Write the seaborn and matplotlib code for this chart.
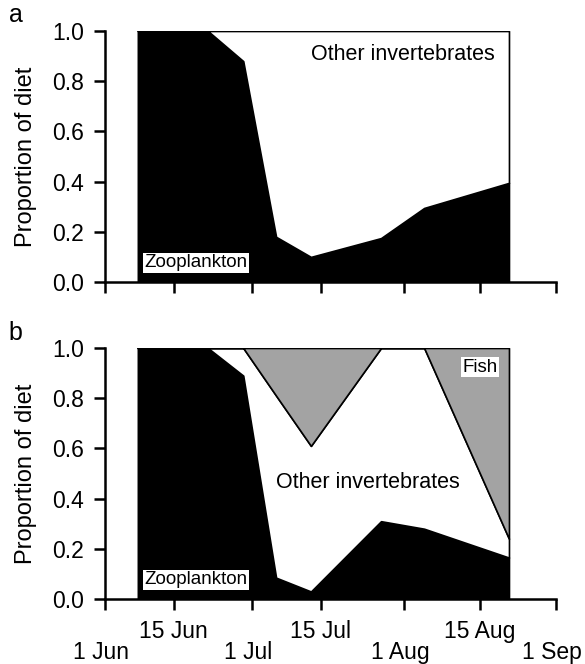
import numpy as np
import seaborn as sns
import matplotlib
matplotlib.use("Agg")
import matplotlib.pyplot as plt
from matplotlib.transforms import ScaledTranslation

# days since 1 June of each sampling date
days = [6.7, 21.0, 28.2, 34.9, 42.0, 56.3, 65.1, 82.4]

# panel a: zooplankton vs other invertebrates
a_zoo = [1.0, 1.0, 0.88, 0.18, 0.10, 0.175, 0.295, 0.395]
a_other = [1 - z for z in a_zoo]

# panel b: zooplankton, other invertebrates, fish
b_zoo = [1.0, 1.0, 0.89, 0.085, 0.03, 0.31, 0.28, 0.165]
b_fish = [0.0, 0.0, 0.0, 0.19, 0.39, 0.0, 0.0, 0.76]
b_other = [1 - z - f for z, f in zip(b_zoo, b_fish)]

# tick positions as they sit on the original axis
first_days = [0, 30, 61, 92]
first_labels = ["1 Jun", "1 Jul", "1 Aug", "1 Sep"]
mid_days = [14, 44, 76.5]
mid_labels = ["15 Jun", "15 Jul", "15 Aug"]
yticks = [0.0, 0.2, 0.4, 0.6, 0.8, 1.0]

sns.set_theme(style="ticks")
plt.rcParams["font.family"] = ["Liberation Sans", "DejaVu Sans"]
plt.rcParams["text.color"] = "black"
plt.rcParams["axes.labelcolor"] = "black"

fig = plt.figure(figsize=(5.85, 6.64), dpi=100)
ax_a = fig.add_axes([0.1795, 0.5753, 0.771, 0.378])
ax_b = fig.add_axes([0.1795, 0.0979, 0.771, 0.378])

ax_a.stackplot(days, a_zoo, a_other, colors=["black", "white"],
               edgecolor="black", linewidth=1.2)
ax_b.stackplot(days, b_zoo, b_other, b_fish, colors=["black", "white", "#a3a3a3"],
               edgecolor="black", linewidth=1.2)

for ax in (ax_a, ax_b):
    ax.set_xlim(0, 92)
    ax.set_ylim(0, 1)
    ax.set_yticks(yticks)
    ax.set_yticklabels([f"{v:.1f}" for v in yticks])
    ax.set_xticks(first_days)
    ax.set_xticks(mid_days, minor=True)
    ax.set_ylabel("Proportion of diet", fontsize=17, labelpad=11)
    ax.tick_params(which="both", direction="out", length=8, width=1.8,
                   labelsize=16.5, colors="black")
    ax.tick_params(axis="y", pad=7)
    for s in ("left", "bottom"):
        ax.spines[s].set_linewidth(1.8)
        ax.spines[s].set_color("black")
    ax.set_facecolor("white")
    ax.text(18.6, 0.076, "Zooplankton", fontsize=13.5, ha="center", va="center",
            bbox=dict(facecolor="white", edgecolor="none", pad=1))
    sns.despine(ax=ax)

ax_a.set_xticklabels([])
ax_a.set_xticklabels([], minor=True)
ax_b.set_xticklabels(first_labels)
ax_b.set_xticklabels(mid_labels, minor=True)
ax_b.tick_params(axis="x", which="major", pad=22)
ax_b.tick_params(axis="x", which="minor", pad=7)
# month-start labels sit a little left of their ticks in the original
shift = ScaledTranslation(-3 / 72, 0, fig.dpi_scale_trans)
for lbl in ax_b.get_xticklabels():
    lbl.set_transform(lbl.get_transform() + shift)

ax_a.text(60.8, 0.905, "Other invertebrates", fontsize=15.5, ha="center", va="center")
ax_b.text(53.7, 0.466, "Other invertebrates", fontsize=15.5, ha="center", va="center")
ax_b.text(76.5, 0.924, "Fish", fontsize=13.5, ha="center", va="center",
          bbox=dict(facecolor="white", edgecolor="none", pad=1))

fig.text(0.027, 0.977, "a", fontsize=18, ha="center", va="center")
fig.text(0.027, 0.499, "b", fontsize=18, ha="center", va="center")

fig.savefig("out.png", dpi=100, facecolor="white")
